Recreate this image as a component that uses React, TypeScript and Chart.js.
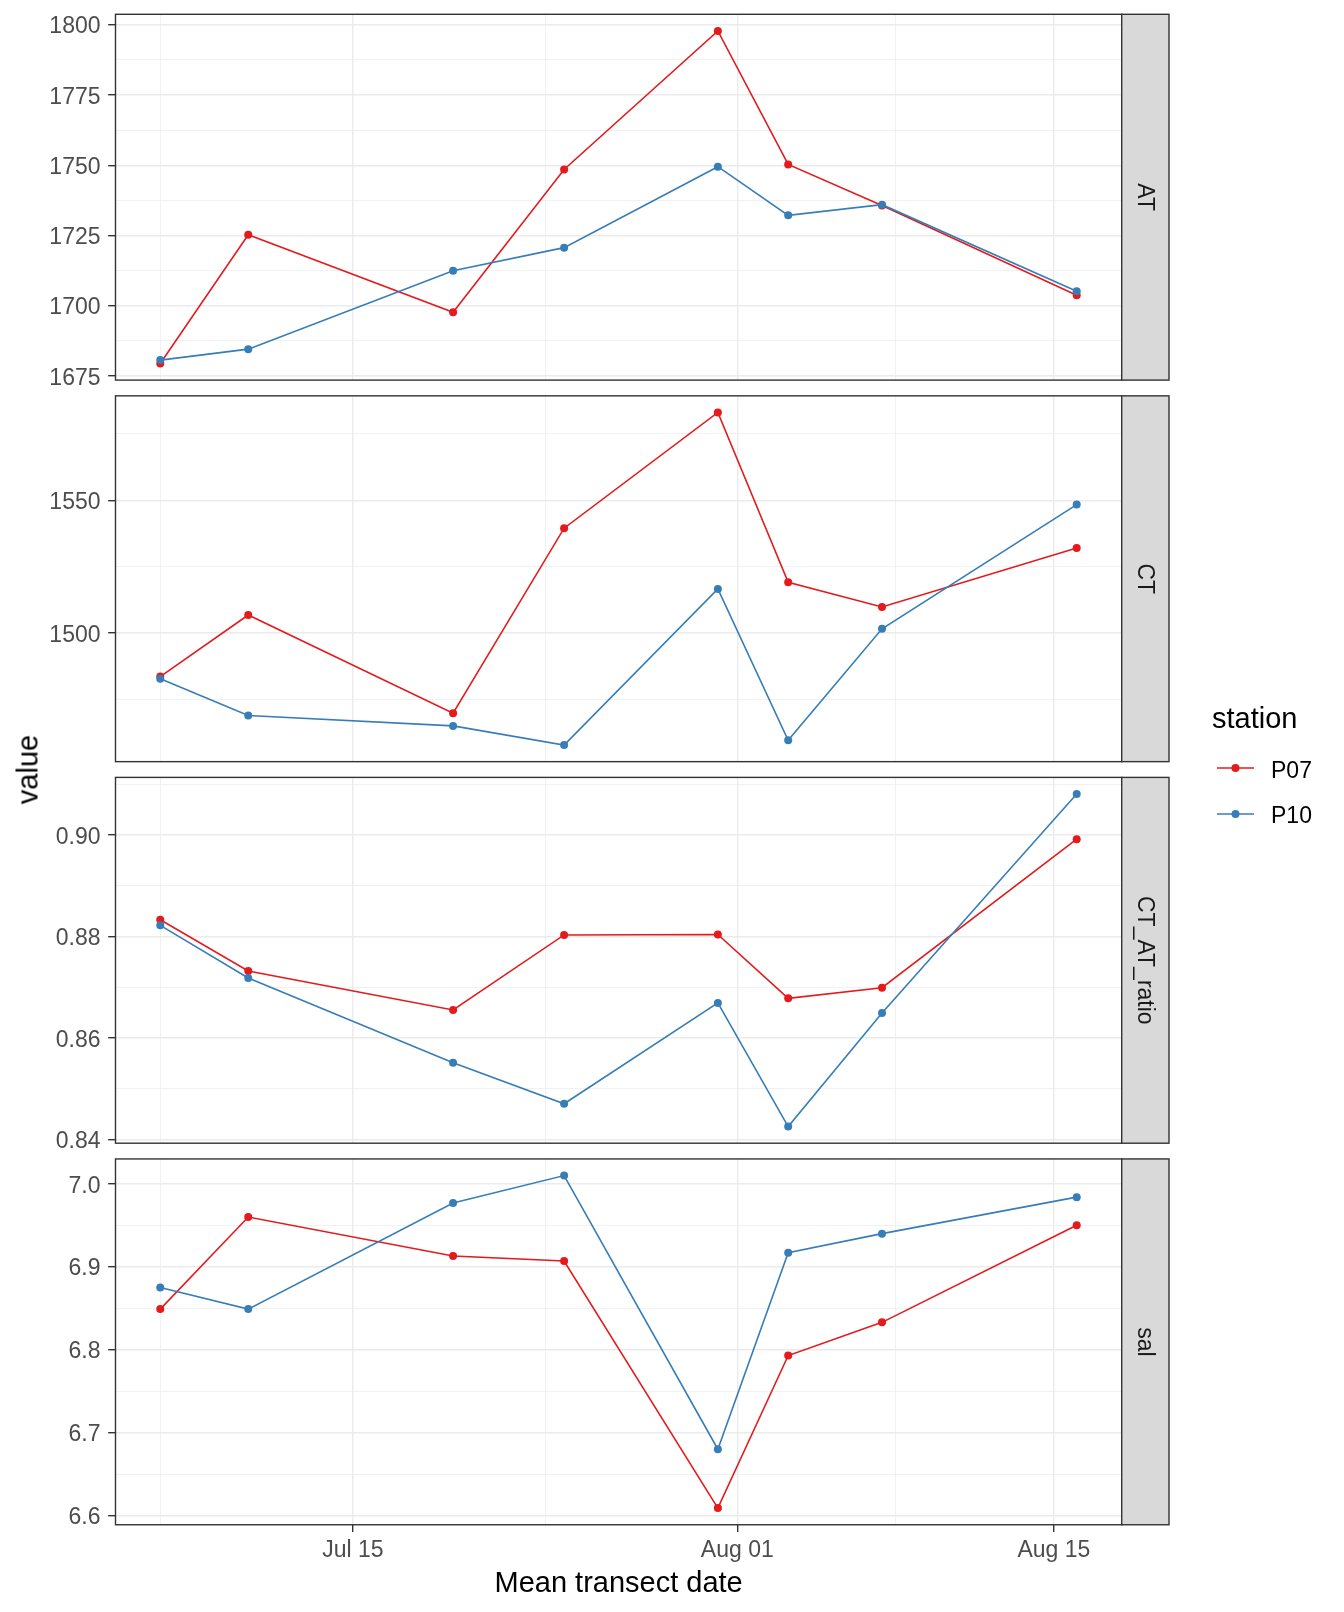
import React, { useEffect, useRef } from 'react';
import { Chart, registerables } from 'chart.js';

Chart.register(...registerables);

const FONT = "'Liberation Sans', Arial, Helvetica, sans-serif";

// Mean transect date, expressed as days after 1 July
const DATES = [5.48, 9.37, 18.43, 23.34, 30.14, 33.25, 37.4, 46.01];
const X_MIN = 3.5;
const X_MAX = 48.0;
const X_TICKS = [14, 31, 45];
const X_TICK_LABELS = ['Jul 15', 'Aug 01', 'Aug 15'];
const X_MINOR = [5.5, 22.5, 38];

const STATIONS = ['P07', 'P10'];
const COLORS = ['#E41A1C', '#377EB8'];

const AT_P07 = [1679.5, 1725.3, 1697.7, 1748.5, 1797.8, 1750.3, 1735.7, 1703.8];
const AT_P10 = [1680.7, 1684.6, 1712.5, 1720.7, 1749.5, 1732.2, 1736.0, 1705.2];
const CT_P07 = [1483.6, 1506.8, 1469.8, 1539.5, 1583.1, 1519.1, 1509.8, 1532.0];
const CT_P10 = [1482.8, 1468.9, 1465.0, 1457.8, 1516.6, 1459.6, 1501.6, 1548.4];
const RATIO_P07 = [0.8833, 0.8732, 0.8655, 0.8803, 0.8804, 0.8678, 0.8699, 0.8992];
const RATIO_P10 = [0.8822, 0.8718, 0.8551, 0.847, 0.8669, 0.8425, 0.8649, 0.9081];
const SAL_P07 = [6.849, 6.96, 6.913, 6.907, 6.609, 6.793, 6.833, 6.95];
const SAL_P10 = [6.875, 6.849, 6.977, 7.01, 6.68, 6.917, 6.94, 6.984];

const AT_TICKS = [1675, 1700, 1725, 1750, 1775, 1800];
const AT_TICK_LABELS = ['1675', '1700', '1725', '1750', '1775', '1800'];
const AT_MINOR = [1687.5, 1712.5, 1737.5, 1762.5, 1787.5];
const CT_TICKS = [1500, 1550];
const CT_TICK_LABELS = ['1500', '1550'];
const CT_MINOR = [1475, 1525, 1575];
const RATIO_TICKS = [0.84, 0.86, 0.88, 0.9];
const RATIO_TICK_LABELS = ['0.84', '0.86', '0.88', '0.90'];
const RATIO_MINOR = [0.85, 0.87, 0.89, 0.91];
const SAL_TICKS = [6.6, 6.7, 6.8, 6.9, 7.0];
const SAL_TICK_LABELS = ['6.6', '6.7', '6.8', '6.9', '7.0'];
const SAL_MINOR = [6.65, 6.75, 6.85, 6.95];

type Panel = {
  label: string;
  p07: number[];
  p10: number[];
  ticks: number[];
  tickLabels: string[];
  minor: number[];
};

const PANELS: Panel[] = [
  { label: 'AT', p07: AT_P07, p10: AT_P10, ticks: AT_TICKS, tickLabels: AT_TICK_LABELS, minor: AT_MINOR },
  { label: 'CT', p07: CT_P07, p10: CT_P10, ticks: CT_TICKS, tickLabels: CT_TICK_LABELS, minor: CT_MINOR },
  { label: 'CT_AT_ratio', p07: RATIO_P07, p10: RATIO_P10, ticks: RATIO_TICKS, tickLabels: RATIO_TICK_LABELS, minor: RATIO_MINOR },
  { label: 'sal', p07: SAL_P07, p10: SAL_P10, ticks: SAL_TICKS, tickLabels: SAL_TICK_LABELS, minor: SAL_MINOR },
];

const W = 1344;
const HPAGE = 1612;
const PLOT_LEFT = 115.5;
const PLOT_RIGHT = 1121.7;
const STRIP_W = 47.3;
const PANEL_TOP0 = 14.3;
const PANEL_STEP = 381.55;
const PANEL_H = 365.8;
const LINE_W = 1.6;
const POINT_R = 4;

function indexOfNear(list: number[], v: any): number {
  if (typeof v !== 'number') return -1;
  return list.findIndex((m) => Math.abs(m - v) < 1e-7);
}

function PanelChart({ panel, index, last }: { panel: Panel; index: number; last: boolean }) {
  const ref = useRef<HTMLCanvasElement>(null);
  const top = PANEL_TOP0 + index * PANEL_STEP;
  const bottom = top + PANEL_H;
  const canvasTop = Math.floor(top) - 14;
  const canvasBottom = last ? HPAGE : Math.ceil(bottom) + 16;
  const canvasH = canvasBottom - canvasTop;

  useEffect(() => {
    const canvas = ref.current;
    if (!canvas) return;
    const all = [...panel.p07, ...panel.p10];
    const lo = Math.min(...all);
    const hi = Math.max(...all);
    const pad = (hi - lo) * 0.05;
    const xTickSet = [...X_TICKS, ...X_MINOR].sort((a, b) => a - b);
    const yTickSet = [...panel.ticks, ...panel.minor].sort((a, b) => a - b);
    const pts = (ys: number[]) => ys.map((y, i) => ({ x: DATES[i], y }));

    const framePlugin = {
      id: 'frame' + index,
      afterDraw(chart: any) {
        const { ctx, chartArea: a } = chart;
        ctx.save();
        ctx.strokeStyle = '#333333';
        ctx.lineWidth = 1.4;
        ctx.strokeRect(a.left, a.top, a.right - a.left, a.bottom - a.top);
        ctx.fillStyle = '#D9D9D9';
        ctx.fillRect(a.right, a.top, STRIP_W, a.bottom - a.top);
        ctx.strokeRect(a.right, a.top, STRIP_W, a.bottom - a.top);
        ctx.translate(a.right + STRIP_W / 2 - 1, (a.top + a.bottom) / 2);
        ctx.rotate(Math.PI / 2);
        ctx.fillStyle = '#1A1A1A';
        ctx.font = `23px ${FONT}`;
        ctx.textAlign = 'center';
        ctx.textBaseline = 'middle';
        ctx.fillText(panel.label, 0, 0);
        ctx.restore();
      },
    };

    const chart = new Chart(canvas, {
      type: 'line',
      data: {
        datasets: [
          { label: STATIONS[0], data: pts(panel.p07), borderColor: COLORS[0], backgroundColor: COLORS[0], borderWidth: LINE_W, pointRadius: 0, fill: false, order: 4 },
          { label: STATIONS[1], data: pts(panel.p10), borderColor: COLORS[1], backgroundColor: COLORS[1], borderWidth: LINE_W, pointRadius: 0, fill: false, order: 3 },
          { label: STATIONS[0] + ' points', data: pts(panel.p07), showLine: false, pointRadius: POINT_R, pointHoverRadius: POINT_R, pointBorderWidth: 0, pointBackgroundColor: COLORS[0], borderColor: COLORS[0], backgroundColor: COLORS[0], order: 2 },
          { label: STATIONS[1] + ' points', data: pts(panel.p10), showLine: false, pointRadius: POINT_R, pointHoverRadius: POINT_R, pointBorderWidth: 0, pointBackgroundColor: COLORS[1], borderColor: COLORS[1], backgroundColor: COLORS[1], order: 1 },
        ],
      },
      options: {
        animation: false,
        responsive: false,
        devicePixelRatio: 1,
        events: [],
        layout: { padding: { top: top - canvasTop, left: 0, right: W - PLOT_RIGHT, bottom: 0 } },
        plugins: { legend: { display: false }, tooltip: { enabled: false }, title: { display: false } },
        scales: {
          x: {
            type: 'linear',
            min: X_MIN,
            max: X_MAX,
            bounds: 'data',
            border: { display: false },
            grid: {
              color: '#EBEBEB',
              lineWidth: (ctx: any) => (indexOfNear(X_TICKS, ctx.tick?.value) >= 0 ? 1.4 : 0.7),
              drawTicks: last,
              tickLength: 7.3,
              tickWidth: 1.4,
              tickColor: (ctx: any) => (indexOfNear(X_TICKS, ctx.tick?.value) >= 0 ? '#333333' : 'rgba(0,0,0,0)'),
            },
            ticks: {
              display: last,
              autoSkip: false,
              maxRotation: 0,
              minRotation: 0,
              padding: 4.6,
              color: '#4D4D4D',
              font: { family: FONT, size: 23 },
              callback: (v: any) => {
                const i = indexOfNear(X_TICKS, Number(v));
                return i >= 0 ? X_TICK_LABELS[i] : '';
              },
            },
            title: {
              display: last,
              text: 'Mean transect date',
              color: '#000000',
              font: { family: FONT, size: 29 },
              padding: { top: 0, bottom: 10.9 },
            },
            afterBuildTicks: (s: any) => {
              s.ticks = xTickSet.map((v) => ({ value: v }));
            },
            afterFit: (s: any) => {
              s.height = canvasH - (bottom - canvasTop);
              s.paddingLeft = 0;
              s.paddingRight = 0;
            },
          },
          y: {
            type: 'linear',
            min: lo - pad,
            max: hi + pad,
            bounds: 'data',
            border: { display: false },
            grid: {
              color: '#EBEBEB',
              lineWidth: (ctx: any) => (indexOfNear(panel.ticks, ctx.tick?.value) >= 0 ? 1.4 : 0.7),
              drawTicks: true,
              tickLength: 7.3,
              tickWidth: 1.4,
              tickColor: (ctx: any) => (indexOfNear(panel.ticks, ctx.tick?.value) >= 0 ? '#333333' : 'rgba(0,0,0,0)'),
            },
            ticks: {
              autoSkip: false,
              padding: 7.7,
              labelOffset: 2.3,
              color: '#4D4D4D',
              font: { family: FONT, size: 23 },
              callback: (v: any) => {
                const i = indexOfNear(panel.ticks, Number(v));
                return i >= 0 ? panel.tickLabels[i] : '';
              },
            },
            afterBuildTicks: (s: any) => {
              s.ticks = yTickSet.map((v) => ({ value: v }));
            },
            afterFit: (s: any) => {
              s.width = PLOT_LEFT;
              s.paddingTop = 0;
              s.paddingBottom = 0;
            },
          },
        },
      } as any,
      plugins: [framePlugin],
    });
    return () => chart.destroy();
  }, [panel, index, last, top, bottom, canvasTop, canvasH]);

  return (
    <canvas
      ref={ref}
      width={W}
      height={canvasH}
      style={{ position: 'absolute', left: 0, top: canvasTop, width: W, height: canvasH }}
    />
  );
}

function LegendKey({ color, top }: { color: string; top: number }) {
  return (
    <svg width={37} height={16} style={{ position: 'absolute', left: 1217, top: top - 8 }}>
      <line x1={0} y1={8} x2={37} y2={8} stroke={color} strokeWidth={LINE_W} />
      <circle cx={18.5} cy={8} r={POINT_R} fill={color} />
    </svg>
  );
}

export default function App() {
  useEffect(() => {
    document.body.style.margin = '0';
  }, []);
  return (
    <div
      style={{
        position: 'absolute',
        left: 0,
        top: 0,
        width: W,
        height: HPAGE,
        background: '#FFFFFF',
        overflow: 'hidden',
        fontFamily: FONT,
      }}
    >
      {PANELS.map((p, i) => (
        <PanelChart key={p.label} panel={p} index={i} last={i === PANELS.length - 1} />
      ))}
      <div
        style={{
          position: 'absolute',
          left: 28.25 - 100,
          top: 769.5 - 14.5,
          width: 200,
          height: 29,
          lineHeight: '29px',
          fontSize: 29,
          textAlign: 'center',
          color: '#000000',
          transform: 'rotate(-90deg)',
          whiteSpace: 'nowrap',
        }}
      >
        value
      </div>
      <div style={{ position: 'absolute', left: 1212, top: 703.8, fontSize: 29, lineHeight: '29px', color: '#000000', whiteSpace: 'nowrap' }}>
        station
      </div>
      <LegendKey color={COLORS[0]} top={767.7} />
      <LegendKey color={COLORS[1]} top={814.3} />
      <div style={{ position: 'absolute', left: 1271, top: 758.8, fontSize: 23, lineHeight: '23px', color: '#000000', whiteSpace: 'nowrap' }}>
        {STATIONS[0]}
      </div>
      <div style={{ position: 'absolute', left: 1271, top: 803.8, fontSize: 23, lineHeight: '23px', color: '#000000', whiteSpace: 'nowrap' }}>
        {STATIONS[1]}
      </div>
    </div>
  );
}
